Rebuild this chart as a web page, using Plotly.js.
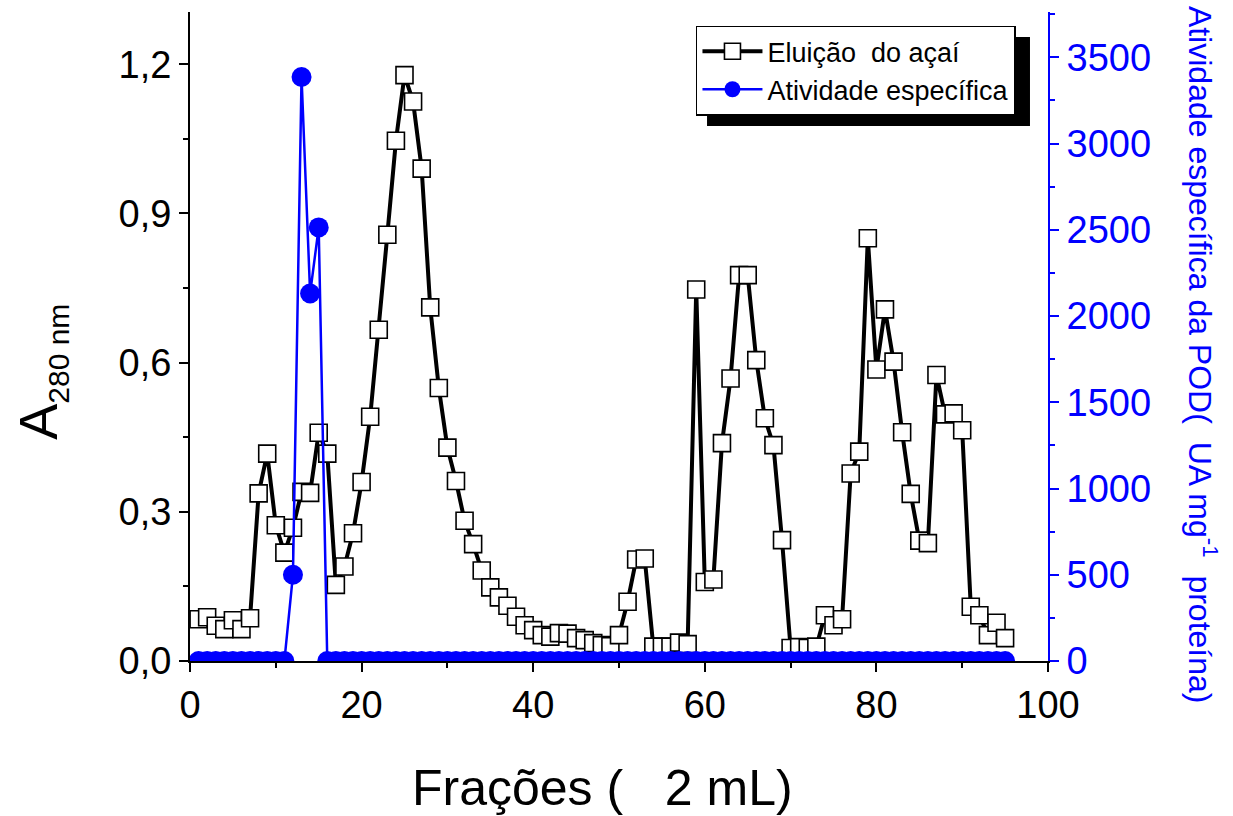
<!DOCTYPE html>
<html>
<head>
<meta charset="utf-8">
<script src="https://cdn.plot.ly/plotly-3.0.1.min.js"></script>
<style>html,body{margin:0;padding:0;background:#fff;}</style>
</head>
<body>
<div id="chart" style="width:1233px;height:816px;"></div>
<script>
const fracoes = [1,2,3,4,5,6,7,8,9,10,11,12,13,14,15,16,17,18,19,20,
  21,22,23,24,25,26,27,28,29,30,31,32,33,34,35,36,37,38,39,40,
  41,42,43,44,45,46,47,48,49,50,51,52,53,54,55,56,57,58,59,60,
  61,62,63,64,65,66,67,68,69,70,71,72,73,74,75,76,77,78,79,80,
  81,82,83,84,85,86,87,88,89,90,91,92,93,94,95];

const eluicao = [0.084,0.088,0.071,0.064,0.082,0.064,0.086,0.337,0.417,0.273,
  0.218,0.268,0.340,0.338,0.459,0.417,0.153,0.190,0.257,0.360,
  0.491,0.666,0.857,1.046,1.178,1.125,0.990,0.711,0.549,0.429,
  0.362,0.282,0.235,0.182,0.148,0.128,0.111,0.089,0.072,0.062,
  0.052,0.049,0.056,0.055,0.046,0.042,0.036,0.032,0.030,0.052,
  0.119,0.204,0.206,0.029,0.029,0.029,0.037,0.034,0.747,0.159,
  0.164,0.438,0.568,0.776,0.776,0.605,0.488,0.434,0.243,0.026,
  0.028,0.026,0.029,0.092,0.072,0.084,0.377,0.421,0.850,0.586,
  0.707,0.602,0.460,0.336,0.242,0.237,0.575,0.496,0.498,0.464,
  0.109,0.092,0.052,0.077,0.046];

const atividade = [0,0,0,0,0,0,0,0,0,0,
  0,500,3386,2131,2514,0,0,0,0,0,
  0,0,0,0,0,0,0,0,0,0,
  0,0,0,0,0,0,0,0,0,0,
  0,0,0,0,0,0,0,0,0,0,
  0,0,0,0,0,0,0,0,0,0,
  0,0,0,0,0,0,0,0,0,0,
  0,0,0,0,0,0,0,0,0,0,
  0,0,0,0,0,0,0,0,0,0,
  0,0,0,0,0];

const nomeEluicao = 'Eluição\u00a0 do açaí';
const nomeAtividade = 'Atividade específica';

const FONT = 'Liberation Sans, Arial, sans-serif';
const BLUE = '#0000ff';

const traces = [
  {
    x: fracoes, y: eluicao, name: nomeEluicao, type: 'scatter', mode: 'lines+markers',
    line: {color: 'black', width: 4},
    marker: {symbol: 'square', size: 17, color: 'white', line: {color: 'black', width: 1.6}},
    yaxis: 'y'
  },
  {
    x: fracoes, y: atividade, name: nomeAtividade, type: 'scatter', mode: 'lines+markers',
    line: {color: BLUE, width: 2.5},
    marker: {symbol: 'circle', size: 20, color: BLUE, line: {width: 0}},
    yaxis: 'y2'
  }
];

const layout = {
  width: 1233, height: 816,
  margin: {l: 190, r: 185, t: 12, b: 155, pad: 0},
  paper_bgcolor: 'white', plot_bgcolor: 'white',
  font: {family: FONT, color: 'black'},
  separators: ',.',
  showlegend: true,
  legend: {
    x: 0.5897, y: 0.979, xanchor: 'left', yanchor: 'top',
    bgcolor: 'white', bordercolor: 'black', borderwidth: 1.5,
    font: {size: 27, family: FONT, color: 'black'},
    itemwidth: 60, tracegroupgap: 0
  },
  xaxis: {
    range: [0, 100], tick0: 0, dtick: 20,
    ticks: 'outside', ticklen: 9, tickwidth: 2, tickcolor: 'black',
    showline: true, linewidth: 2, linecolor: 'black',
    showgrid: false, zeroline: false,
    tickfont: {size: 38, family: FONT, color: 'black'},
    minor: {ticks: 'outside', dtick: 10, ticklen: 5, tickwidth: 2, tickcolor: 'black', showgrid: false}
  },
  yaxis: {
    range: [0, 1.305], tick0: 0, dtick: 0.3, tickformat: '.1f',
    ticks: 'outside', ticklen: 9, tickwidth: 2, tickcolor: 'black',
    showline: true, linewidth: 2, linecolor: 'black',
    showgrid: false, zeroline: false,
    tickfont: {size: 38, family: FONT, color: 'black'},
    minor: {ticks: 'outside', dtick: 0.15, ticklen: 5, tickwidth: 2, tickcolor: 'black', showgrid: false}
  },
  yaxis2: {
    overlaying: 'y', side: 'right',
    range: [0, 3763], tick0: 0, dtick: 500,
    ticks: 'outside', ticklen: 9, tickwidth: 2, tickcolor: BLUE,
    showline: true, linewidth: 2, linecolor: BLUE,
    showgrid: false, zeroline: false,
    tickfont: {size: 38, family: FONT, color: BLUE},
    minor: {ticks: 'outside', dtick: 250, ticklen: 5, tickwidth: 2, tickcolor: BLUE, showgrid: false}
  },
  shapes: [
    {type: 'rect', xref: 'paper', yref: 'paper', x0: 0.6026, x1: 0.979, y0: 0.8243, y1: 0.9615,
     fillcolor: 'black', line: {width: 0}, layer: 'above'}
  ],
  annotations: [
    {xref: 'paper', yref: 'paper', x: -0.173, y: 0.445, xanchor: 'center', yanchor: 'middle',
     textangle: -90, showarrow: false,
     text: 'A<sub><span style="font-size:30px">280 nm</span></sub>',
     font: {size: 54, family: FONT, color: 'black'}},
    {xref: 'paper', yref: 'paper', x: 1.18, y: 0.471, xanchor: 'center', yanchor: 'middle',
     textangle: 90, showarrow: false,
     text: 'Atividade específica da POD(\u00a0 UA mg<sup>-1</sup>\u00a0 proteína)',
     font: {size: 32, family: FONT, color: BLUE}},
    {xref: 'paper', yref: 'paper', x: 0.481, y: -0.196, xanchor: 'center', yanchor: 'middle',
     showarrow: false,
     text: 'Frações (\u00a0\u00a0 2 mL)',
     font: {size: 50, family: FONT, color: 'black'}}
  ]
};

Plotly.newPlot('chart', traces, layout, {displayModeBar: false, responsive: false});
</script>
</body>
</html>
